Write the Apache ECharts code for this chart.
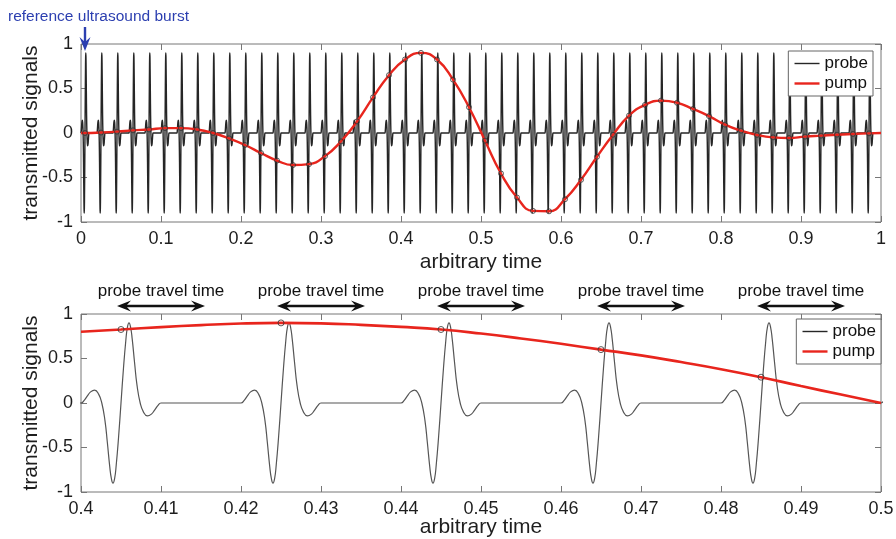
<!DOCTYPE html>
<html>
<head>
<meta charset="utf-8">
<title>probe and pump signals</title>
<script src="https://cdn.jsdelivr.net/npm/echarts@6/dist/echarts.min.js"></script>
<style>
  html, body { margin: 0; padding: 0; background: #fff; }
  #chart { width: 896px; height: 539px; }
</style>
</head>
<body>
<div id="chart"></div>
<script>
// one probe burst: time offset from the burst start -> amplitude
var burstOffset = [-0.001, 0, 0.0004, 0.0008, 0.0012, 0.0017, 0.0022, 0.0026, 0.003, 0.0033, 0.0036, 0.0038, 0.004,
    0.0042, 0.0044, 0.0047, 0.005, 0.0053, 0.0056, 0.0058, 0.006, 0.0062, 0.0064, 0.0067, 0.007, 0.0074,
    0.0078, 0.0083, 0.0088, 0.0092, 0.0096, 0.01, 0.011];
var burstShape = [0, 0, 0.03, 0.08, 0.125, 0.145, 0.1, 0, -0.2, -0.45, -0.72, -0.85, -0.9,
    -0.85, -0.7, -0.38, 0, 0.38, 0.7, 0.85, 0.9, 0.85, 0.72, 0.45, 0.2, 0,
    -0.1, -0.145, -0.125, -0.08, -0.03, 0, 0];

// start time of every probe burst
var burstStart = [0, 0.02, 0.04, 0.06, 0.08, 0.1, 0.12, 0.14, 0.16, 0.18,
    0.2, 0.22, 0.24, 0.26, 0.28, 0.3, 0.32, 0.34, 0.36, 0.38,
    0.4, 0.42, 0.44, 0.46, 0.48, 0.5, 0.52, 0.54, 0.56, 0.58,
    0.6, 0.62, 0.64, 0.66, 0.68, 0.7, 0.72, 0.74, 0.76, 0.78,
    0.8, 0.82, 0.84, 0.86, 0.88, 0.9, 0.92, 0.94, 0.96, 0.98];
var burstCentre = 0.005;

// pump amplitude at the centre of each burst
var pumpAtBurst = [0.0, 0.005, 0.015, 0.03, 0.04, 0.055, 0.055, 0.04, 0.0, -0.06,
    -0.135, -0.225, -0.31, -0.36, -0.35, -0.26, -0.094, 0.13, 0.40, 0.65,
    0.826, 0.90, 0.826, 0.60, 0.29, -0.086, -0.455, -0.725, -0.875, -0.88,
    -0.744, -0.526, -0.267, -0.02, 0.195, 0.316, 0.364, 0.34, 0.27, 0.19,
    0.094, 0.026, -0.022, -0.049, -0.056, -0.041, -0.03, -0.019, -0.011, -0.004];

// pump in the zoomed window (bottom panel)
var zoomTime = [0.4, 0.405, 0.41, 0.415, 0.42, 0.425, 0.43, 0.435, 0.44, 0.445, 0.45,
    0.455, 0.46, 0.465, 0.47, 0.475, 0.48, 0.485, 0.49, 0.495, 0.5];
var zoomPump = [0.80, 0.826, 0.853, 0.875, 0.893, 0.90, 0.895, 0.878, 0.855, 0.826, 0.78,
    0.725, 0.665, 0.60, 0.535, 0.46, 0.38, 0.29, 0.19, 0.095, 0.0];

// "probe travel time" arrows in the bottom panel
var travelFrom = [0.4045, 0.4245, 0.4445, 0.4645, 0.4845];
var travelTo = [0.4155, 0.4355, 0.4555, 0.4755, 0.4955];

var red = '#e8251d';
var frame = '#777';
var ink = '#1e1e1e';
var blue = '#2c3fb0';
var font = 'Liberation Sans, Arial, sans-serif';

// build the series from the arrays above
var probe = [];
burstStart.forEach(function (s) {
    burstOffset.forEach(function (o, i) {
        if (s + o >= 0) probe.push([s + o, burstShape[i]]);
    });
});
probe.push([1, 0]);

var pumpMarks = burstStart.map(function (s, i) { return [s + burstCentre, pumpAtBurst[i]]; });
var pumpLine = [[0, 0]].concat(pumpMarks, [[1, 0]]);
var zoomLine = zoomTime.map(function (t, i) { return [t, zoomPump[i]]; });
var zoomMarks = pumpMarks.filter(function (p) { return p[0] >= 0.4 && p[0] <= 0.5; });

function xAxisFor(grid, position, min, max, step, labels, gap) {
    return {
        type: 'value', gridIndex: grid, position: position,
        min: min, max: max, interval: step,
        axisLine: { show: false, onZero: false },
        axisTick: { show: true, inside: true, length: 6, lineStyle: { color: frame } },
        axisLabel: { show: labels, color: ink, fontSize: 18, margin: 8, fontFamily: font },
        splitLine: { show: false },
        name: labels ? 'arbitrary time' : '',
        nameLocation: 'middle', nameGap: gap, nameMoveOverlap: false,
        nameTextStyle: { color: ink, fontSize: 21, fontFamily: font }
    };
}

function yAxisFor(grid, position, labels) {
    return {
        type: 'value', gridIndex: grid, position: position,
        min: -1, max: 1, interval: 0.5,
        axisLine: { show: false, onZero: false },
        axisTick: { show: true, inside: true, length: 6, lineStyle: { color: frame } },
        axisLabel: { show: labels, color: ink, fontSize: 18, margin: 8, fontFamily: font },
        splitLine: { show: false },
        name: labels ? 'transmitted signals' : '',
        nameLocation: 'middle', nameGap: 39, nameRotate: 90, nameMoveOverlap: false,
        nameTextStyle: { color: ink, fontSize: 21, fontFamily: font }
    };
}

function legendAt(top, right) {
    return {
        data: ['probe', 'pump'],
        orient: 'vertical', top: top, right: right,
        backgroundColor: '#fff', borderColor: '#666', borderWidth: 1, borderRadius: 0,
        padding: [4, 5, 4, 5], itemGap: 3, itemWidth: 25, itemHeight: 14,
        itemStyle: { color: 'rgba(0,0,0,0)', borderColor: 'rgba(0,0,0,0)', borderWidth: 0 },
        lineStyle: { width: 'inherit' },
        textStyle: { color: '#111', fontSize: 17, fontFamily: font, lineHeight: 17 },
        selectedMode: false
    };
}

var chart = echarts.init(document.getElementById('chart'));

chart.setOption({
    animation: false,
    backgroundColor: '#fff',
    title: {
        text: 'reference ultrasound burst', left: 8, top: 9, padding: 0,
        textStyle: { color: blue, fontSize: 15.5, fontWeight: 'normal', fontFamily: font }
    },
    legend: [legendAt(51, 23), legendAt(319, 15)],
    grid: [
        { left: 81, right: 15, top: 44, height: 178, show: true, borderColor: frame, borderWidth: 1, outerBoundsMode: 'none' },
        { left: 81, right: 15, top: 314, height: 178, show: true, borderColor: frame, borderWidth: 1, outerBoundsMode: 'none' }
    ],
    xAxis: [
        xAxisFor(0, 'bottom', 0, 1, 0.1, true, 30),
        xAxisFor(0, 'top', 0, 1, 0.1, false, 0),
        xAxisFor(1, 'bottom', 0.4, 0.5, 0.01, true, 25),
        xAxisFor(1, 'top', 0.4, 0.5, 0.01, false, 0)
    ],
    yAxis: [
        yAxisFor(0, 'left', true),
        yAxisFor(0, 'right', false),
        yAxisFor(1, 'left', true),
        yAxisFor(1, 'right', false)
    ],
    series: [
        {
            name: 'probe', type: 'line', xAxisIndex: 0, yAxisIndex: 0, data: probe,
            symbol: 'none', smooth: true,
            lineStyle: { color: '#262626', width: 1.4 }, itemStyle: { color: '#262626' }, z: 2
        },
        {
            name: 'pump', type: 'line', xAxisIndex: 0, yAxisIndex: 0, data: pumpLine,
            symbol: 'none', smooth: true,
            lineStyle: { color: red, width: 2.4 }, itemStyle: { color: red }, z: 3
        },
        {
            name: 'pump at burst', type: 'scatter', xAxisIndex: 0, yAxisIndex: 0, data: pumpMarks,
            symbolSize: 5, itemStyle: { color: 'rgba(0,0,0,0)', borderColor: '#333', borderWidth: 1 }, z: 4
        },
        {
            name: 'probe', type: 'line', xAxisIndex: 2, yAxisIndex: 2, data: probe,
            symbol: 'none', smooth: true,
            lineStyle: { color: '#555', width: 1.2 }, itemStyle: { color: '#555' }, z: 2
        },
        {
            name: 'pump', type: 'line', xAxisIndex: 2, yAxisIndex: 2, data: zoomLine,
            symbol: 'none', smooth: true,
            lineStyle: { color: red, width: 2.6 }, itemStyle: { color: red }, z: 3
        },
        {
            name: 'pump at burst', type: 'scatter', xAxisIndex: 2, yAxisIndex: 2, data: zoomMarks,
            symbolSize: 6, itemStyle: { color: 'rgba(0,0,0,0)', borderColor: '#333', borderWidth: 1 }, z: 4
        }
    ]
});

// arrow heads: tip point and direction of travel
function head(tx, ty, dx, dy, color) {
    var nx = -dy, ny = dx;
    return {
        type: 'polygon', silent: true, z: 10,
        shape: { points: [
            [tx, ty],
            [tx - dx * 14 + nx * 5.5, ty - dy * 14 + ny * 5.5],
            [tx - dx * 9, ty - dy * 9],
            [tx - dx * 14 - nx * 5.5, ty - dy * 14 - ny * 5.5]
        ] },
        style: { fill: color }
    };
}

var els = [];

// blue arrow at the first (reference) burst
var ref = chart.convertToPixel({ xAxisIndex: 0, yAxisIndex: 0 }, [burstStart[0] + burstCentre, 1]);
var tipY = ref[1] + 7;
els.push({ type: 'line', silent: true, z: 10,
    shape: { x1: ref[0], y1: ref[1] - 17, x2: ref[0], y2: tipY - 9 },
    style: { stroke: blue, lineWidth: 2.4 } });
els.push(head(ref[0], tipY, 0, 1, blue));

// probe travel time arrows
travelFrom.forEach(function (t0, i) {
    var a = chart.convertToPixel({ xAxisIndex: 2, yAxisIndex: 2 }, [t0, 1]);
    var b = chart.convertToPixel({ xAxisIndex: 2, yAxisIndex: 2 }, [travelTo[i], 1]);
    var y = a[1] - 8;
    els.push({ type: 'line', silent: true, z: 10,
        shape: { x1: a[0] + 9, y1: y, x2: b[0] - 9, y2: y },
        style: { stroke: '#111', lineWidth: 2.6 } });
    els.push(head(a[0], y, -1, 0, '#111'));
    els.push(head(b[0], y, 1, 0, '#111'));
    els.push({ type: 'text', silent: true, z: 10,
        style: { text: 'probe travel time', x: (a[0] + b[0]) / 2, y: y - 15,
            align: 'center', verticalAlign: 'middle',
            fontSize: 17, fontFamily: font, fill: '#111' } });
});

chart.setOption({ graphic: els });
</script>
</body>
</html>
